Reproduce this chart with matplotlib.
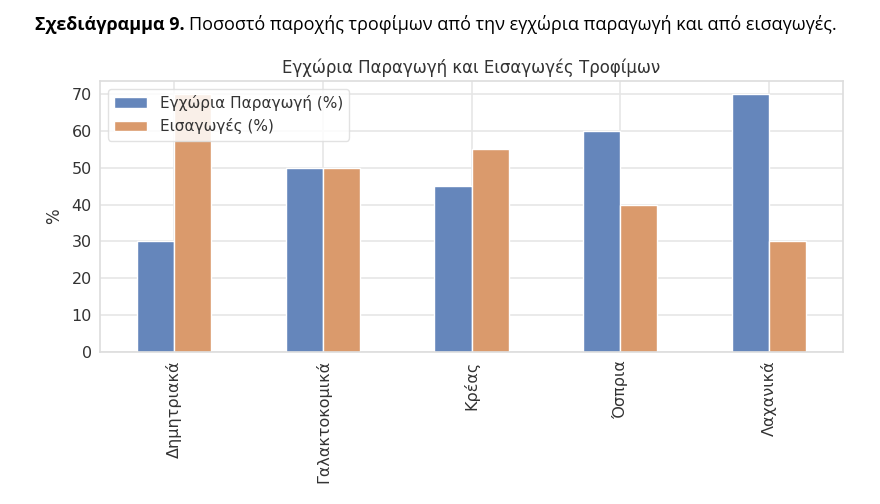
import numpy as np
import matplotlib
matplotlib.use('Agg')
import matplotlib.pyplot as plt

# data
categories = ['Δημητριακά', 'Γαλακτοκομικά', 'Κρέας', 'Όσπρια', 'Λαχανικά']
domestic = [30, 50, 45, 60, 70]
imports = [70, 50, 55, 40, 30]
series_labels = ['Εγχώρια Παραγωγή (%)', 'Εισαγωγές (%)']
yticks = [0, 10, 20, 30, 40, 50, 60, 70]

plt.rcParams['font.family'] = ['DejaVu Sans']

fig = plt.figure(figsize=(8.8, 5.04), dpi=100)
W, H = 880, 504
ax = fig.add_axes([100 / W, 1 - 352 / H, 743 / W, (352 - 81) / H])

x = np.arange(len(categories))
w = 0.25
ax.bar(x - w / 2, domestic, w, color='#6586bb', edgecolor='white', linewidth=1,
       label=series_labels[0], zorder=2)
ax.bar(x + w / 2, imports, w, color='#da9a6c', edgecolor='white', linewidth=1,
       label=series_labels[1], zorder=2)

ax.set_xlim(-0.5, len(categories) - 0.5)
ax.set_ylim(0, 73.5)
ax.set_yticks(yticks)
ax.set_xticks(x)
ax.set_xticklabels(categories, rotation=90)
ax.tick_params(axis='both', length=0, labelsize=11.5, labelcolor='#333333', pad=6)
ax.grid(True, color='#e6e6e6', linewidth=1.2, zorder=0)
ax.set_axisbelow(True)
for s in ax.spines.values():
    s.set_color('#dddddd')
    s.set_linewidth(1.2)
ax.set_ylabel('%', fontsize=12, color='#333333', labelpad=6)
ax.set_title('Εγχώρια Παραγωγή και Εισαγωγές Τροφίμων', fontsize=12,
             color='#333333', pad=6)

leg = ax.legend(loc='upper left', fontsize=11, frameon=True, fancybox=True,
                borderaxespad=0.5, handlelength=2.2)
leg.get_frame().set_edgecolor('#dddddd')
leg.get_frame().set_alpha(0.85)
for t in leg.get_texts():
    t.set_color('#333333')

# caption above the chart: bold lead-in then regular text
cap_y = 1 - 25 / H
renderer = fig.canvas.get_renderer()
t1 = fig.text(35 / W, cap_y, 'Σχεδιάγραμμα 9.', fontsize=13, fontweight='bold',
              family='Open Sans', va='center', ha='left')
bb = t1.get_window_extent(renderer)
fig.text(bb.x1 / W + 4 / W, cap_y,
         'Ποσοστό παροχής τροφίμων από την εγχώρια παραγωγή και από εισαγωγές.',
         fontsize=13, family='Open Sans', va='center', ha='left')

fig.savefig('out.png', dpi=100)
